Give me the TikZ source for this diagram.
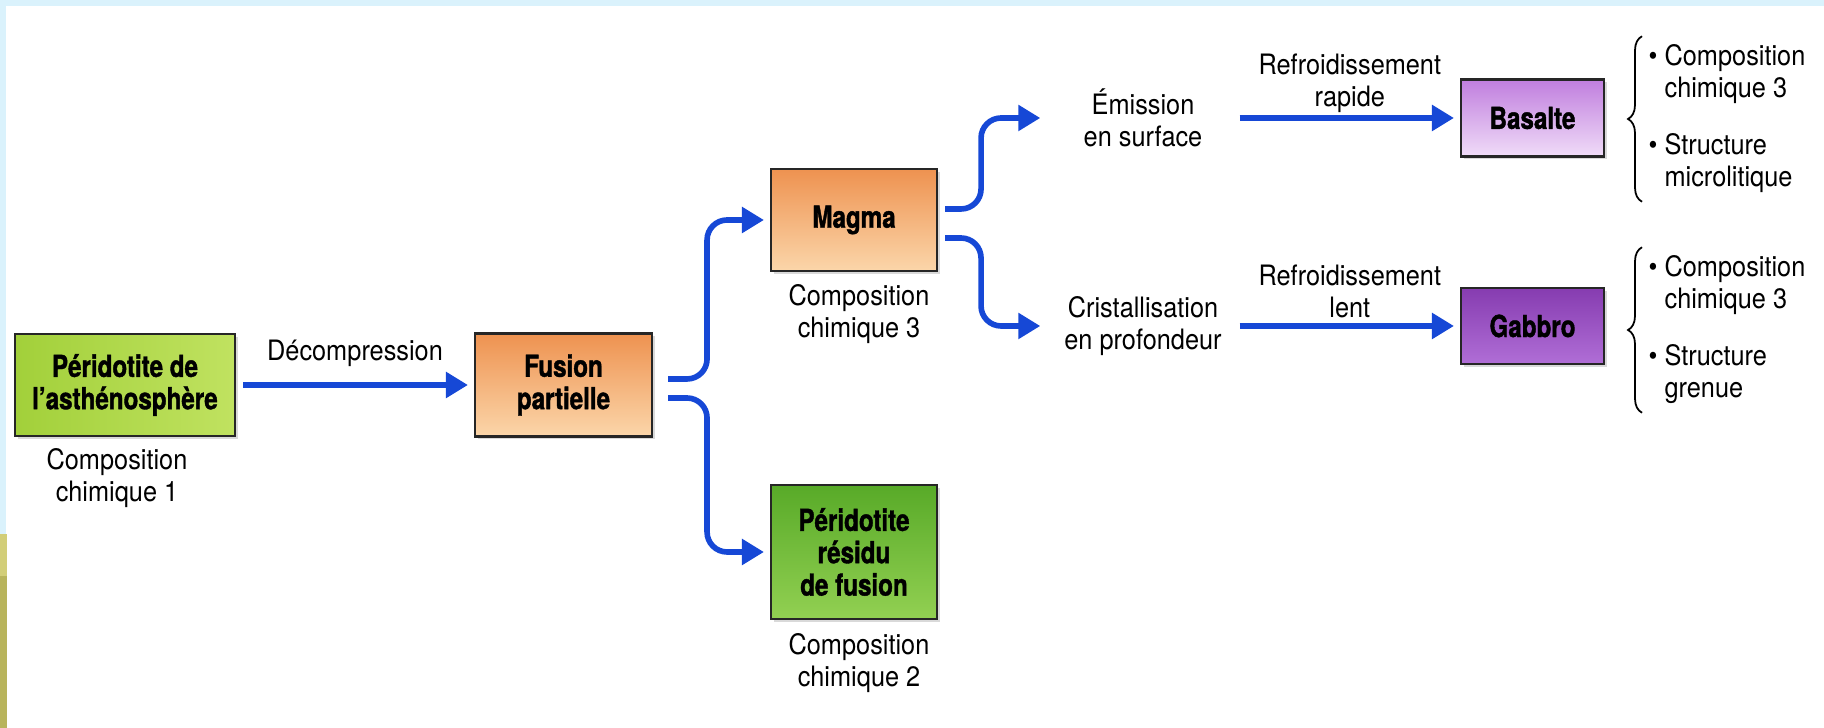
\documentclass[tikz,border=0pt]{standalone}
\usepackage{fontspec}
\setmainfont{TeX Gyre Heros}[FakeStretch=0.9]
\newfontfamily\boxfont{TeX Gyre Heros}[FakeStretch=0.8, BoldFeatures={FakeBold=1.3}]
\usetikzlibrary{arrows.meta,decorations.pathreplacing,shadows}

\definecolor{flowblue}{RGB}{22,72,214}
\definecolor{bandblue}{RGB}{218,242,252}
\definecolor{olivelight}{RGB}{210,206,120}
\definecolor{olivedark}{RGB}{184,180,92}

\begin{document}
\begin{tikzpicture}[
    rock/.style={draw=black!85, line width=0.6pt, align=center, inner sep=0pt,
                 font=\boxfont\bfseries\fontsize{8.6}{9.2}\selectfont,
                 drop shadow={opacity=0.3, shadow xshift=0.03cm, shadow yshift=-0.03cm}},
    note/.style={align=center, inner sep=0pt, font=\fontsize{8}{9.1}\selectfont},
    stage/.style={note, minimum width=1.92cm},
    bullets/.style={align=left, inner sep=0pt, anchor=west, font=\fontsize{8}{9.1}\selectfont},
    flow/.style={draw=flowblue, line width=1.6pt, -{Triangle[length=0.22cm,width=0.25cm]}, shorten >=0.06cm},
    branch/.style={flow, rounded corners=0.2cm},
    curly/.style={decorate, decoration={brace, amplitude=0.14cm}, line width=0.5pt}
]
                \useasboundingbox (0, 0) rectangle (18.24, 7.28);

                % Frame
                \fill[bandblue] (0, 7.22) rectangle (18.24, 7.28);
                \fill[bandblue] (0, 1.94) rectangle (0.06, 7.28);
                \fill[olivelight] (0, 1.52) rectangle (0.07, 1.94);
                \fill[olivedark] (0, 0) rectangle (0.07, 1.52);

                % Nodes
                \node[rock, minimum width=2.20cm, minimum height=1.02cm,
                      left color={rgb,255:red,162;green,208;blue,58}, right color={rgb,255:red,192;green,226;blue,96}]
                      (peri) at (1.25, 3.43) {Péridotite de\\l’asthénosphère};
                \node[rock, minimum width=1.77cm, minimum height=1.03cm,
                      top color={rgb,255:red,238;green,146;blue,80}, bottom color={rgb,255:red,251;green,214;blue,170}]
                      (fusion) at (5.635, 3.43) {Fusion\\partielle};
                \node[rock, minimum width=1.66cm, minimum height=1.02cm,
                      top color={rgb,255:red,238;green,146;blue,80}, bottom color={rgb,255:red,251;green,214;blue,170}]
                      (magma) at (8.54, 5.08) {Magma};
                \node[rock, minimum width=1.66cm, minimum height=1.34cm,
                      top color={rgb,255:red,88;green,170;blue,40}, bottom color={rgb,255:red,146;green,208;blue,82}]
                      (residu) at (8.54, 1.76) {Péridotite\\résidu\\de fusion};
                \node[rock, minimum width=1.43cm, minimum height=0.77cm,
                      top color={rgb,255:red,192;green,126;blue,222}, bottom color={rgb,255:red,240;green,220;blue,248}]
                      (basalte) at (15.325, 6.10) {Basalte};
                \node[rock, minimum width=1.43cm, minimum height=0.76cm,
                      top color={rgb,255:red,134;green,60;blue,176}, bottom color={rgb,255:red,176;green,110;blue,214}]
                      (gabbro) at (15.325, 4.02) {Gabbro};

                \node[stage] (emission) at (11.43, 6.10) {Émission\\en surface};
                \node[stage] (cristal) at (11.43, 4.02) {Cristallisation\\en profondeur};

                \node[note] (comp1) at (1.17, 2.50) {Composition\\chimique 1}; % under peri
                \node[note] (comp3) at (8.59, 4.14) {Composition\\chimique 3}; % under magma
                \node[note] (comp2) at (8.59, 0.65) {Composition\\chimique 2}; % under residu

                \node[bullets] (basaltlist) at (16.48, 6.09)
                      {\textbullet\ Composition\\\hphantom{\textbullet\ }chimique 3\\[0.25cm]\textbullet\ Structure\\\hphantom{\textbullet\ }microlitique};
                \node[bullets] (gabbrolist) at (16.48, 3.98)
                      {\textbullet\ Composition\\\hphantom{\textbullet\ }chimique 3\\[0.25cm]\textbullet\ Structure\\\hphantom{\textbullet\ }grenue};

                % Edges
                \draw[flow, shorten <=0.07cm] (peri) -- node[note, above=0.16cm] {Décompression} (fusion);
                \draw[branch] ([yshift=0.06cm]fusion.east) ++(0.15, 0) -- ++(0.39, 0) |- (magma.west);
                \draw[branch] ([yshift=-0.13cm]fusion.east) ++(0.15, 0) -- ++(0.39, 0) |- (residu.west);
                \draw[branch] ([yshift=0.11cm]magma.east) ++(0.07, 0) -- ++(0.36, 0) |- (emission.west);
                \draw[branch] ([yshift=-0.18cm]magma.east) ++(0.07, 0) -- ++(0.36, 0) |- (cristal.west);
                \draw[flow] (emission) -- node[note, above=0.03cm] {Refroidissement\\rapide} (basalte);
                \draw[flow] (cristal) -- node[note, above=0.05cm] {Refroidissement\\lent} (gabbro);

                % Braces
                \draw[curly] ([shift={(-0.06, -0.08)}]basaltlist.south west) -- ([shift={(-0.06, 0.08)}]basaltlist.north west);
                \draw[curly] ([shift={(-0.06, -0.08)}]gabbrolist.south west) -- ([shift={(-0.06, 0.08)}]gabbrolist.north west);
            \end{tikzpicture}
\end{document}
